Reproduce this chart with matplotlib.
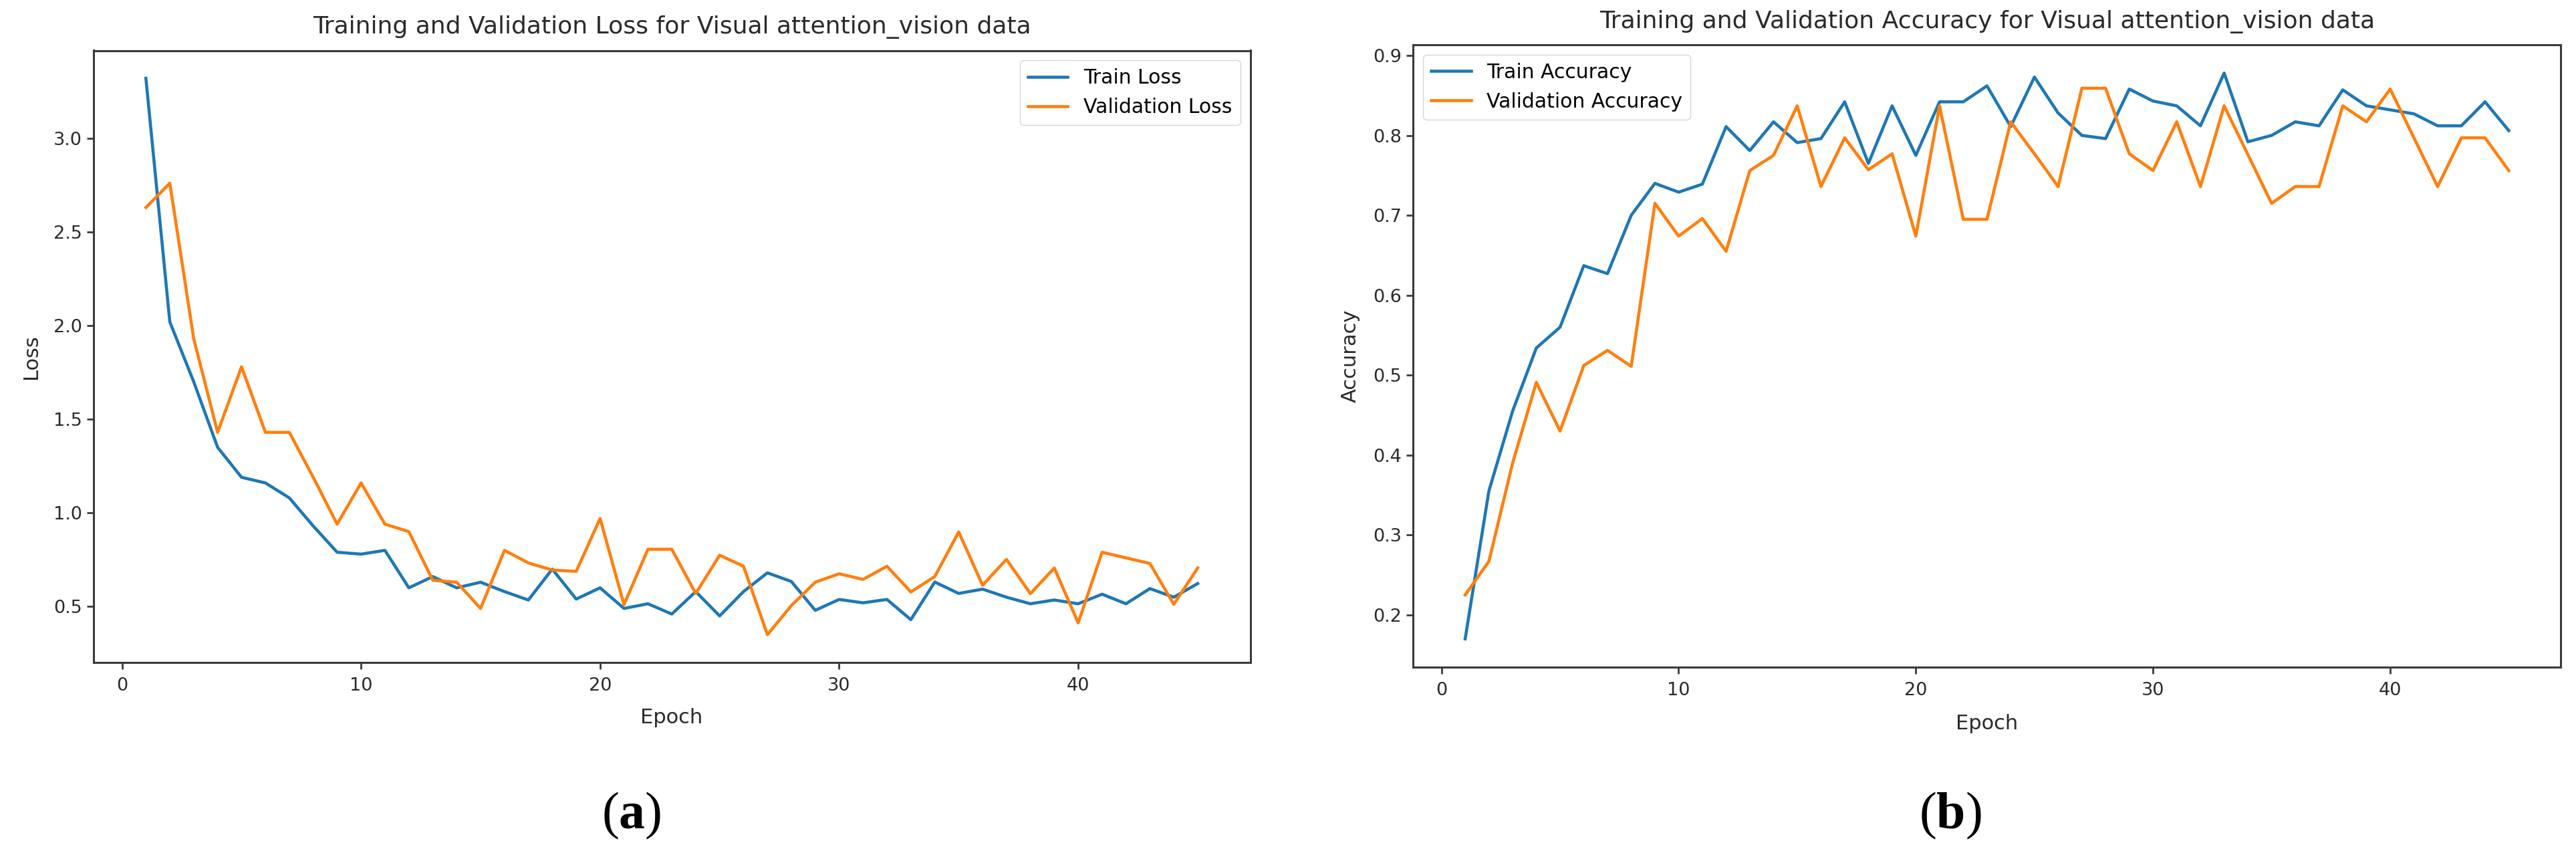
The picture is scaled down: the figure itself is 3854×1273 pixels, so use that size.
import matplotlib
matplotlib.use("Agg")
import matplotlib.pyplot as plt

plt.rcParams['font.family'] = ['DejaVu Sans']
plt.rcParams['mathtext.fontset'] = 'custom'
plt.rcParams['mathtext.rm'] = 'Liberation Serif'
plt.rcParams['mathtext.bf'] = 'Liberation Serif:bold'

# epochs 1..45
epochs = list(range(1, 46))

train_loss = [3.32, 2.02, 1.70, 1.35, 1.19, 1.16, 1.08, 0.93, 0.79, 0.78,
              0.80, 0.60, 0.66, 0.60, 0.63, 0.58, 0.535, 0.70, 0.54, 0.60,
              0.49, 0.515, 0.46, 0.58, 0.45, 0.58, 0.68, 0.634, 0.48, 0.538,
              0.52, 0.538, 0.43, 0.631, 0.57, 0.593, 0.55, 0.515, 0.535, 0.515,
              0.566, 0.515, 0.596, 0.55, 0.623]
val_loss = [2.63, 2.76, 1.93, 1.43, 1.78, 1.43, 1.43, 1.19, 0.94, 1.16,
            0.94, 0.90, 0.64, 0.63, 0.49, 0.80, 0.733, 0.695, 0.688, 0.97,
            0.51, 0.806, 0.806, 0.57, 0.774, 0.715, 0.35, 0.505, 0.63, 0.675,
            0.645, 0.715, 0.578, 0.66, 0.898, 0.614, 0.752, 0.569, 0.706, 0.413,
            0.79, 0.76, 0.73, 0.512, 0.706]

train_acc = [0.17, 0.355, 0.455, 0.534, 0.56, 0.637, 0.627, 0.70, 0.74, 0.729,
             0.739, 0.811, 0.781, 0.817, 0.791, 0.796, 0.842, 0.765, 0.837, 0.775,
             0.842, 0.842, 0.862, 0.811, 0.873, 0.828, 0.80, 0.796, 0.858, 0.843,
             0.837, 0.812, 0.878, 0.792, 0.80, 0.817, 0.812, 0.857, 0.837, 0.832,
             0.827, 0.812, 0.812, 0.842, 0.806]
val_acc = [0.225, 0.267, 0.39, 0.491, 0.43, 0.512, 0.531, 0.511, 0.715, 0.674,
           0.696, 0.655, 0.756, 0.775, 0.837, 0.736, 0.797, 0.757, 0.777, 0.674,
           0.837, 0.695, 0.695, 0.817, 0.777, 0.736, 0.859, 0.859, 0.777, 0.756,
           0.817, 0.736, 0.837, 0.776, 0.715, 0.736, 0.736, 0.837, 0.817, 0.858,
           0.797, 0.736, 0.797, 0.797, 0.756]

W, H = 3855, 1273
fig = plt.figure(figsize=(W / 100, H / 100), dpi=100)

ax1 = fig.add_axes([139.6 / W, 1 - 991 / H, (1870.6 - 139.6) / W, (991 - 75.5) / H])
ax2 = fig.add_axes([2114 / W, 1 - 998 / H, (3831.5 - 2114) / W, (998 - 67) / H])

text_col = '#2a2a2a'


def style(ax):
    for s in ax.spines.values():
        s.set_linewidth(2.2)
        s.set_color('#3a3a3a')
    ax.tick_params(labelsize=19.5, length=7, width=2, colors='#3a3a3a',
                   labelcolor=text_col, pad=5)
    ax.tick_params(axis='x', pad=9)


ax1.plot(epochs, train_loss, color='#1f77b4', lw=3.3, label='Train Loss')
ax1.plot(epochs, val_loss, color='#ff7f0e', lw=3.3, label='Validation Loss')
ax1.set_title('Training and Validation Loss for Visual attention_vision data',
              fontsize=26, color=text_col, pad=18)
ax1.set_xlabel('Epoch', fontsize=22, color=text_col, labelpad=14)
ax1.set_ylabel('Loss', fontsize=22, color=text_col, labelpad=14)
ax1.legend(loc='upper right', fontsize=21.5)
style(ax1)

ax2.plot(epochs, train_acc, color='#1f77b4', lw=3.3, label='Train Accuracy')
ax2.plot(epochs, val_acc, color='#ff7f0e', lw=3.3, label='Validation Accuracy')
ax2.set_title('Training and Validation Accuracy for Visual attention_vision data',
              fontsize=26, color=text_col, pad=18)
ax2.set_xlabel('Epoch', fontsize=22, color=text_col, labelpad=16)
ax2.set_ylabel('Accuracy', fontsize=22, color=text_col, labelpad=14)
ax2.legend(loc='upper left', fontsize=21.5)
style(ax2)

fig.text(945 / W, 1 - 1220 / H, r'($\mathbf{a}$)', fontsize=56,
         family='Liberation Serif', ha='center', va='center', color='black')
fig.text(2918 / W, 1 - 1220 / H, r'($\mathbf{b}$)', fontsize=56,
         family='Liberation Serif', ha='center', va='center', color='black')

fig.savefig('out.png', dpi=100)
